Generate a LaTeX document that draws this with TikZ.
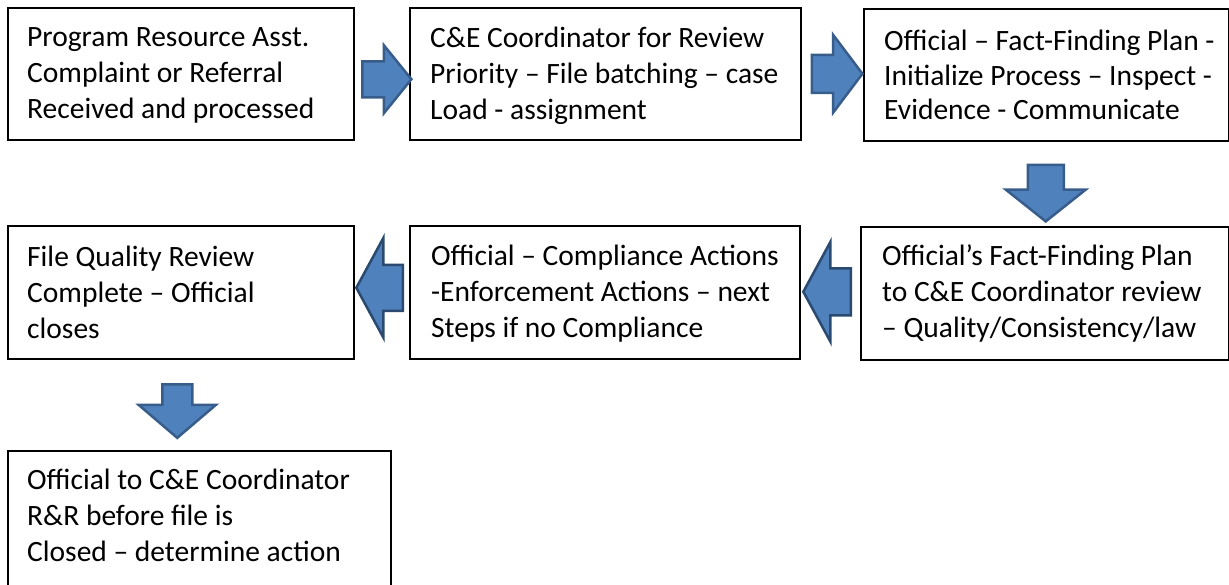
\documentclass[tikz,border=0pt]{standalone}
\usepackage{fontspec}
\setmainfont{Carlito}
\usepackage{tikz}
\usetikzlibrary{calc, shapes.arrows}

\definecolor{arrowfill}{HTML}{4F81BD}
\definecolor{arrowline}{HTML}{385D8A}
\definecolor{arrowdark}{HTML}{2A4A70}

\begin{document}
\begin{tikzpicture}[x=1pt, y=-1pt,
		stage/.style={draw, line width=1.5pt, anchor=north west, inner sep=0pt},
		stagetext/.style={anchor=west, align=left, inner sep=0pt, font=\fontsize{29.5}{36}\selectfont},
		flow/.style={single arrow, draw=arrowline, fill=arrowfill, line width=2.5pt, inner xsep=0pt, single arrow head indent=0pt, anchor=tip}]
			\useasboundingbox (0, 0) rectangle (1229, 584);

			\node[stage, minimum width=346pt, minimum height=132pt] (b1) at (7, 7) {};
			\node[stage, minimum width=391pt, minimum height=132pt] (b2) at (409, 7) {};
			\node[stage, minimum width=365pt, minimum height=132pt] (b3) at (863, 8) {};
			\node[stage, minimum width=368pt, minimum height=133pt] (b4) at (860, 226) {};
			\node[stage, minimum width=390pt, minimum height=133pt] (b5) at (409, 225) {};
			\node[stage, minimum width=346pt, minimum height=133pt] (b6) at (7, 225) {};
			\node[stage, minimum width=383pt, minimum height=140pt] (b7) at (7, 450) {};

			\node[stagetext] (t1) at ($(b1.west) + (20, 2)$) {Program Resource Asst.\\Complaint or Referral\\Received and processed};
			\node[stagetext] (t2) at ($(b2.west) + (21, 2)$) {C\&E Coordinator for Review\\Priority – File batching – case\\Load - assignment};
			\node[stagetext, font=\fontsize{29.5}{34.5}\selectfont] (t3) at ($(b3.west) + (21, 0.5)$) {Official – Fact-Finding Plan -\\Initialize Process – Inspect -\\Evidence - Communicate};
			\node[stagetext] (t4) at ($(b4.west) + (22, 0)$) {Official’s Fact-Finding Plan\\to C\&E Coordinator review\\– Quality/Consistency/law};
			\node[stagetext] (t5) at ($(b5.west) + (22, 1)$) {Official – Compliance Actions\\-Enforcement Actions – next\\Steps if no Compliance};
			\node[stagetext] (t6) at ($(b6.west) + (20, 0)$) {File Quality Review\\Complete – Official\\closes};
			\node[stagetext] (t7) at ($(b7.west) + (20, -5)$) {Official to C\&E Coordinator\\R\&R before file is\\Closed – determine action};

			\node[flow, inner ysep=16.75pt, minimum height=49pt, single arrow head extend=16pt, single arrow tip angle=102] (a1) at ($(b2.west) + (4, 5.5)$) {};
			\node[flow, inner ysep=17.75pt, minimum height=50.5pt, single arrow head extend=20pt, single arrow tip angle=106] (a2) at ($(b3.west) + (1, -1)$) {};
			\node[flow, rotate=-90, inner ysep=16.75pt, minimum height=56.5pt, single arrow head extend=22pt, single arrow tip angle=103] (a3) at ($(b4.north) + (1, -3)$) {};
			\node[flow, draw=arrowdark, rotate=180, inner ysep=22.25pt, minimum height=47.5pt, single arrow head extend=26.5pt, single arrow tip angle=123] (a4) at ($(b5.east) + (1.4, -0.5)$) {};
			\node[flow, draw=arrowdark, rotate=180, inner ysep=21.75pt, minimum height=46.5pt, single arrow head extend=27pt, single arrow tip angle=123] (a5) at ($(b6.east) + (0.4, -4.5)$) {};
			\node[flow, rotate=-90, inner ysep=13.75pt, minimum height=53.5pt, single arrow head extend=23.5pt, single arrow tip angle=99] (a6) at ($(b7.north) + (-22, -10.5)$) {};
		\end{tikzpicture}
\end{document}
